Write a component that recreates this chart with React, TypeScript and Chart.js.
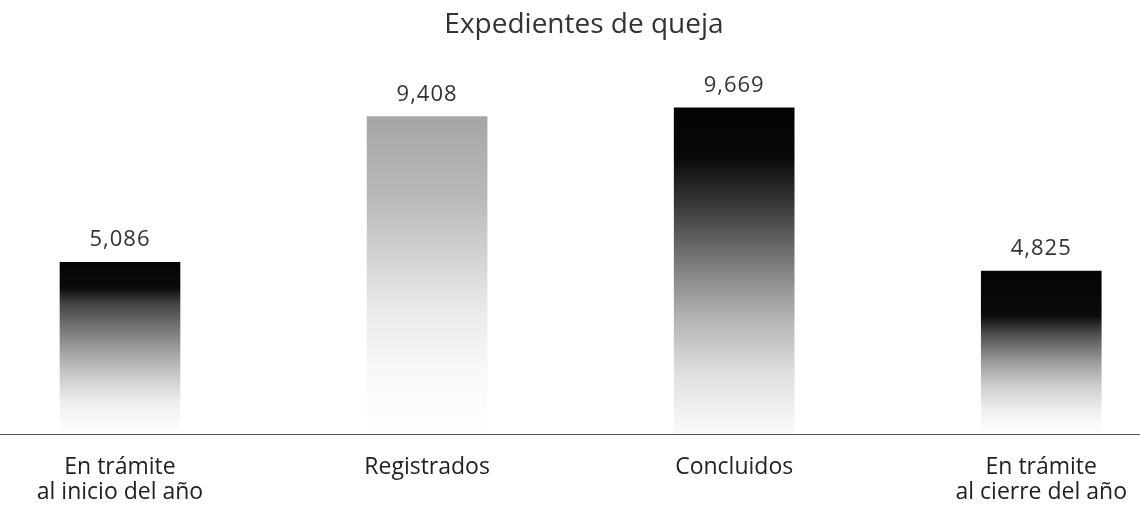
import React, { useEffect, useRef } from "react";
import { Chart, registerables } from "chart.js";

Chart.register(...registerables);

const chartTitle = "Expedientes de queja";
const categories: string[][] = [
  ["En trámite", "al inicio del año"],
  ["Registrados"],
  ["Concluidos"],
  ["En trámite", "al cierre del año"],
];
const values: number[] = [5086, 9408, 9669, 4825];

const FONT = "'Open Sans', 'Noto Sans', sans-serif";

// gradient stops per bar (top -> baseline)
const barGradients: [number, string][][] = [
  [[0, "#050505"], [0.15, "#0b0b0b"], [0.24, "#444"], [0.45, "#8c8c8c"], [0.65, "#c8c8c8"], [0.82, "#efefef"], [1, "#ffffff"]],
  [[0, "#a6a6a6"], [0.25, "#b8b8b8"], [0.45, "#d4d4d4"], [0.62, "#ebebeb"], [0.8, "#f8f8f8"], [1, "#ffffff"]],
  [[0, "#030303"], [0.15, "#080808"], [0.3, "#3a3a3a"], [0.48, "#7d7d7d"], [0.65, "#b5b5b5"], [0.82, "#e0e0e0"], [1, "#fbfbfb"]],
  [[0, "#040404"], [0.27, "#0a0a0a"], [0.4, "#555"], [0.55, "#999"], [0.7, "#cdcdcd"], [0.86, "#f0f0f0"], [1, "#ffffff"]],
];

const axisLinePlugin = {
  id: "fullAxisLine",
  afterDraw(chart: any) {
    const { ctx, chartArea, width } = chart;
    ctx.save();
    ctx.strokeStyle = "#555";
    ctx.lineWidth = 1;
    ctx.beginPath();
    const y = Math.round(chartArea.bottom) + 0.5;
    ctx.moveTo(0, y);
    ctx.lineTo(width, y);
    ctx.stroke();
    ctx.restore();
  },
};

const valueLabelPlugin = {
  id: "valueLabels",
  afterDatasetsDraw(chart: any) {
    const { ctx } = chart;
    const meta = chart.getDatasetMeta(0);
    ctx.save();
    ctx.font = `22px ${FONT}`;
    ctx.fillStyle = "#333";
    ctx.textAlign = "center";
    ctx.textBaseline = "alphabetic";
    try {
      (ctx as any).letterSpacing = "1px";
    } catch (e) {}
    meta.data.forEach((el: any, i: number) => {
      ctx.fillText(values[i].toLocaleString("en-US"), el.x, el.y - 16);
    });
    ctx.restore();
  },
};

export default function App() {
  const ref = useRef<HTMLCanvasElement | null>(null);

  useEffect(() => {
    document.body.style.margin = "0";
    const canvas = ref.current;
    if (!canvas) return;
    const chart = new Chart(canvas, {
      type: "bar",
      data: {
        labels: categories,
        datasets: [
          {
            data: values,
            barThickness: 120,
            clip: false,
            borderWidth: 0,
            backgroundColor: (c: any) => {
              const ch = c.chart;
              if (!ch.chartArea || c.dataIndex === undefined) return "#888";
              const ys = ch.scales.y;
              const top = ys.getPixelForValue(values[c.dataIndex]);
              const bottom = ys.getPixelForValue(0);
              const g = ch.ctx.createLinearGradient(0, top, 0, bottom);
              barGradients[c.dataIndex].forEach(([o, col]) => g.addColorStop(o, col));
              return g;
            },
          },
        ],
      },
      options: {
        animation: false,
        responsive: false,
        maintainAspectRatio: false,
        layout: { padding: { left: 120, right: 92, top: 0, bottom: 0 } },
        plugins: {
          legend: { display: false },
          tooltip: { enabled: false },
          title: {
            display: true,
            text: chartTitle,
            color: "#333",
            font: { family: FONT, size: 28, weight: "normal", lineHeight: 1.2 },
            padding: { top: 8, bottom: 55 },
          },
        },
        scales: {
          x: {
            type: "category",
            offset: false,
            grid: { display: false },
            border: { display: false },
            afterFit: (scale: any) => {
              scale.height = 72;
            },
            ticks: {
              color: "#222",
              padding: 13,
              maxRotation: 0,
              autoSkip: false,
              font: { family: FONT, size: 23, lineHeight: 1.1 },
            },
          },
          y: {
            display: false,
            min: 0,
            max: 10000,
          },
        },
      },
      plugins: [axisLinePlugin, valueLabelPlugin],
    });
    return () => chart.destroy();
  }, []);

  return (
    <div style={{ width: 1140, height: 506, background: "#fff" }}>
      <canvas ref={ref} width={1140} height={506} style={{ display: "block" }} />
    </div>
  );
}
